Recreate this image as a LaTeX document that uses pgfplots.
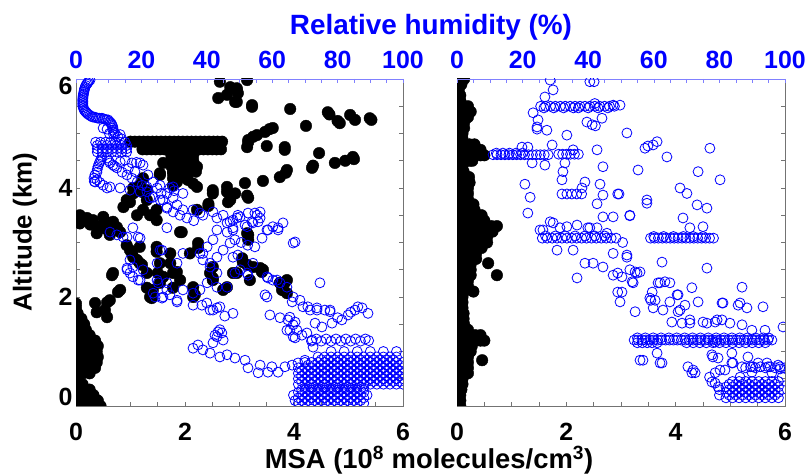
\documentclass[border=0pt]{standalone}
\usepackage{fontspec}
\setmainfont{Liberation Sans}
\usepackage{pgfplots}
\pgfplotsset{compat=1.18}
\definecolor{rhblue}{RGB}{0,0,255}
\definecolor{rhaxis}{RGB}{128,128,255}
\newcommand{\lbl}{\fontsize{25}{28}\selectfont\bfseries}

\pgfplotsset{
  panel/.style={
    width=327bp, height=327bp, scale only axis,
    ymin=0, ymax=6,
    tick align=inside,
    major tick length=4bp, minor tick length=4bp,
    clip marker paths=true,
  },
  msa/.style={
    panel, xmin=0, xmax=6,
    xtick={0,2,4,6}, xticklabels={0,2,4,6},
    minor xtick={0.5,1,1.5,2.5,3,3.5,4.5,5,5.5},
    ytick={0,2,4,6},
    minor ytick={0.5,1,1.5,2.5,3,3.5,4.5,5,5.5},
    xtick pos=left,
    axis line style={draw=black!55, line width=0.8bp},
    tick style={black!55, line width=0.6bp},
    tick label style={font=\lbl},
    xticklabel style={yshift=-14bp},
  },
  rh/.style={
    panel, xmin=0, xmax=100,
    axis x line*=top, axis y line=none,
    xtick={0,20,40,60,80,100}, xticklabels={0,20,40,60,80,100},
    minor xtick={5,10,15,25,30,35,45,50,55,65,70,75,85,90,95},
    axis line style={draw=rhaxis, line width=0.8bp},
    tick style={rhaxis, line width=0.6bp},
    tick label style={font=\lbl, text=rhblue},
    xticklabel style={yshift=7bp},
  },
  dots/.style={only marks, mark=*, mark size=5.8pt, mark options={fill=black, draw=black}},
  rings/.style={only marks, mark=o, mark size=5pt, mark options={draw=rhblue, line width=0.8bp}},
}

\begin{document}
\begin{tikzpicture}

% ---------------- left panel: MSA ----------------
\begin{axis}[msa, at={(76bp,68bp)}, anchor=south west,
  yticklabels={\raisebox{9bp}[\height][\depth]{0},2,4,\raisebox{-7bp}[\height][\depth]{6}}]
\addplot[dots] coordinates {
(0.03,0.00) (0.13,0.00) (0.23,0.00) (0.33,0.00) (0.45,0.00)
(0.03,0.10) (0.13,0.10) (0.23,0.10) (0.33,0.10) (0.40,0.10)
(0.03,0.20) (0.13,0.20) (0.23,0.20) (0.32,0.20)
(0.03,0.30) (0.13,0.30) (0.25,0.30)
(0.03,0.40) (0.12,0.40)
(0.03,0.50)
(0.03,0.60) (0.13,0.60) (0.25,0.60)
(0.03,0.70) (0.13,0.70) (0.23,0.70) (0.35,0.70)
(0.03,0.80) (0.13,0.80) (0.23,0.80) (0.33,0.80) (0.38,0.80)
(0.03,0.90) (0.13,0.90) (0.23,0.90) (0.33,0.90) (0.40,0.90)
(0.03,1.00) (0.13,1.00) (0.23,1.00) (0.33,1.00) (0.38,1.00)
(0.03,1.10) (0.13,1.10) (0.23,1.10) (0.33,1.10) (0.40,1.10)
(0.03,1.20) (0.13,1.20) (0.23,1.20) (0.35,1.20)
(0.03,1.30) (0.13,1.30) (0.25,1.30)
(0.03,1.40) (0.13,1.40) (0.18,1.40)
(0.03,1.50) (0.13,1.50) (0.15,1.50)
(0.03,1.60) (0.10,1.60)
(0.03,1.70) (0.00,1.80) (0.00,1.88)
(0.35,1.89) (0.38,1.72) (0.53,1.76) (0.57,1.63) (0.62,1.94) (0.57,1.90)
(0.77,2.09) (0.81,2.13) (0.66,2.40) (0.68,2.44)
(0.07,3.50) (0.13,3.41) (0.20,3.45) (0.26,3.33) (0.31,3.41) (0.50,3.47)
(0.62,3.36) (0.68,3.38) (0.75,3.28) (0.81,3.19) (0.38,3.17) (0.62,3.14)
(0.45,3.30) (0.07,3.35) (0.55,3.25)
(0.93,2.95) (1.03,2.80) (1.12,2.68) (1.17,2.92) (1.21,2.59) (1.17,2.62)
(1.30,2.44) (1.30,2.17) (1.36,2.00) (1.39,1.98) (1.41,2.13) (1.48,2.83)
(1.48,2.92) (1.50,2.44) (1.54,2.26) (1.54,2.62) (1.60,2.37) (1.73,2.62)
(1.73,2.80) (1.78,2.44) (1.78,2.17) (1.85,2.46) (1.91,2.31) (2.09,2.80)
(2.15,2.00) (2.15,2.18) (2.18,2.04) (2.24,2.99) (2.24,2.90) (2.46,2.44)
(2.51,2.55) (2.51,2.31) (2.51,2.35) (2.70,2.13) (2.77,2.18) (2.88,2.44)
(2.95,2.44) (3.05,2.71) (3.06,2.64) (3.14,2.59) (3.19,2.31) (3.25,2.55)
(3.38,2.53) (3.41,2.46) (3.43,2.50) (3.74,2.26) (3.78,2.13) (3.80,2.13)
(3.83,2.26) (3.87,2.07) (3.87,2.31) (3.14,3.17) (3.16,3.05) (3.16,3.14)
(0.99,2.86) (1.05,2.73)
(0.87,3.65) (0.93,3.78) (0.99,3.74) (1.05,3.90) (1.05,4.00) (1.12,3.50)
(1.17,4.05) (1.21,3.93) (1.23,3.60) (1.23,4.18) (1.30,3.96) (1.30,3.78)
(1.36,3.50) (1.48,3.60) (1.48,3.41) (1.54,4.27) (1.54,4.24) (1.60,4.46)
(1.78,4.27) (1.78,4.05) (1.78,4.18) (1.85,4.11) (1.91,3.19) (1.94,3.19)
(2.22,3.60) (2.22,4.39) (2.43,3.71) (2.43,3.67) (2.51,3.96) (2.51,3.90)
(2.77,3.93) (2.77,4.02) (2.79,3.74) (2.83,3.78)
(1.00,4.85) (1.08,4.85) (1.16,4.85) (1.24,4.85) (1.32,4.85) (1.40,4.85)
(1.48,4.85) (1.56,4.85) (1.64,4.85) (1.72,4.85) (1.80,4.85) (1.88,4.85)
(1.96,4.85) (2.04,4.85) (2.12,4.85) (2.20,4.85) (2.28,4.85) (2.36,4.85)
(2.44,4.85) (2.52,4.85) (2.60,4.85) (2.68,4.85)
(1.22,4.71) (1.30,4.71) (1.38,4.71) (1.46,4.71) (1.54,4.71) (1.62,4.71)
(1.70,4.71) (1.78,4.71) (1.86,4.71) (1.94,4.71) (2.02,4.71) (2.10,4.71)
(2.18,4.71) (2.26,4.71) (2.34,4.71) (2.42,4.71) (2.50,4.71) (2.58,4.71)
(2.66,4.71)
(1.75,4.60) (1.85,4.60) (1.95,4.60) (2.05,4.60) (2.15,4.60)
(1.75,4.50) (1.85,4.50) (1.95,4.50) (2.05,4.50) (2.15,4.50)
(1.75,4.40) (1.85,4.40) (1.95,4.40) (2.05,4.40) (2.18,4.40)
(1.78,4.30) (1.88,4.30) (1.98,4.30) (2.08,4.30) (2.20,4.30)
(1.80,4.20) (1.90,4.20) (2.05,4.15) (2.15,4.08) (2.22,4.02)
(2.64,5.95) (2.83,5.85) (2.95,5.80) (2.95,5.83) (2.97,5.74) (2.61,5.65)
(2.77,5.71) (2.92,5.58) (2.95,5.58) (3.23,5.49) (3.23,5.52) (3.14,5.98)
(3.93,5.45) (4.62,5.39) (4.65,5.35) (4.84,5.19) (4.80,5.23) (5.03,5.34)
(5.12,5.25) (5.39,5.28) (5.42,5.25) (4.22,5.14) (3.16,4.84) (3.16,4.88)
(3.25,4.94) (3.32,4.97) (3.47,5.03) (3.61,5.10) (3.55,5.08) (3.50,4.77)
(3.83,4.70) (3.83,4.75) (4.46,4.64) (4.33,4.37) (4.35,4.41) (4.75,4.46)
(4.94,4.50) (5.08,4.57) (5.10,4.53) (3.87,4.33) (3.85,4.28) (3.74,4.20)
(3.43,4.13) (3.10,4.09) (3.16,3.82) (3.14,3.86) (2.92,3.90) (3.14,4.75)
};
\end{axis}

% ---------------- left panel: relative humidity ----------------
\begin{axis}[rh, at={(76bp,68bp)}, anchor=south west]
\addplot[rings] coordinates {
(5.0,6.05) (4.3,5.98) (3.6,5.93) (3.0,5.88) (2.6,5.82) (2.4,5.76) (2.2,5.70)
(2.1,5.64) (2.1,5.58) (2.1,5.52) (2.3,5.46) (2.8,5.41) (3.4,5.37) (4.3,5.33)
(5.2,5.30) (6.2,5.29) (7.2,5.28) (7.9,5.28) (8.8,5.26) (9.8,5.25) (10.5,5.20)
(11.0,5.16) (11.3,5.10) (11.3,5.06) (12.0,5.00) (12.8,4.94) (8.3,5.10)
(9.5,5.08) (10.2,5.00) (11.5,4.98) (13.5,4.98) (14.0,4.90)
(4.6,6.02) (3.9,5.96) (3.3,5.91) (2.8,5.85) (2.5,5.79) (2.3,5.73) (2.15,5.67)
(2.05,5.61) (2.05,5.55) (2.15,5.49) (2.5,5.43) (3.1,5.39) (3.8,5.35) (4.8,5.31)
(5.7,5.30) (6.7,5.28) (8.4,5.27) (9.3,5.25) (10.2,5.22) (10.8,5.18)
(11.2,5.13) (11.6,5.03)
(6.5,4.66) (8.0,4.66) (9.5,4.66) (11.0,4.66) (12.5,4.66) (14.0,4.66) (15.5,4.66)
(6.5,4.72) (8.0,4.72) (9.5,4.72) (11.0,4.72) (12.5,4.72) (14.0,4.72) (15.5,4.72)
(6.5,4.78) (8.0,4.78) (9.5,4.78) (11.0,4.78) (12.5,4.78) (14.0,4.78) (15.5,4.78)
(6.0,4.84) (7.5,4.84) (9.0,4.84) (10.5,4.84) (12.0,4.84) (13.5,4.84) (15.0,4.84)
(7.9,4.57) (7.3,4.48) (6.7,4.39) (6.4,4.29) (5.8,4.24) (5.5,4.18) (6.4,4.15)
(7.3,4.10) (8.3,4.05) (10.4,4.02) (13.5,4.00) (16.5,3.96) (19.6,3.93)
(7.6,4.52) (7.0,4.44) (6.5,4.34) (5.6,4.12) (5.8,4.11) (9.5,4.00)
(9.5,4.55) (10.4,4.46) (11.3,4.42) (12.5,4.37) (14.1,4.29) (15.6,4.24)
(17.1,4.18) (18.7,4.11) (20.2,4.05) (13.5,4.48) (15.0,4.51) (17.1,4.46)
(18.5,4.47) (19.6,4.46) (20.5,4.42) (22.0,4.24) (23.6,4.11) (25.7,4.05)
(16.0,4.36) (18.0,4.30) (10.0,4.50) (11.8,4.40)
(21.7,3.93) (22.6,3.82) (24.8,4.00) (25.7,3.78) (27.8,3.90) (28.7,4.00)
(29.7,3.82) (30.9,3.69) (32.7,3.90) (27.8,3.63) (29.7,3.56) (31.8,3.50)
(33.9,3.45) (38.8,3.50) (41.9,3.56) (43.1,3.45) (45.0,3.50) (47.1,3.38)
(49.2,3.45) (46.2,3.19) (48.0,3.27) (10.4,3.19) (12.5,3.14) (14.4,3.10)
(17.4,3.27) (19.6,3.08) (27.8,3.27) (21.7,4.02) (23.6,3.83) (26.6,3.78)
(29.7,4.02) (27.8,3.65) (32.7,3.60) (37.9,3.54) (35.8,3.60) (30.0,3.95)
(26.0,3.90) (36.0,3.40)
(43.1,3.23) (46.2,3.36) (48.0,3.41) (50.2,3.47) (52.6,3.54) (54.7,3.54)
(56.3,3.45) (54.1,3.36) (52.3,3.29) (48.0,3.23) (58.4,3.23) (60.2,3.29)
(63.3,3.36) (61.8,3.23) (49.5,3.50) (55.4,3.50) (53.8,3.38) (51.7,3.32)
(55.7,3.38) (58.7,3.23) (61.8,3.27) (67.0,3.01) (56.9,3.08) (48.6,3.05)
(50.5,3.00) (52.5,2.95) (54.7,2.92) (56.3,3.56)
(41.9,3.05) (38.8,2.80) (41.0,2.62) (43.1,2.44) (43.1,2.18) (41.9,1.76)
(48.0,1.70) (40.0,1.89) (35.8,1.85) (30.9,1.94) (26.6,2.00) (23.6,2.07)
(27.8,2.26) (32.7,2.13) (37.9,2.13) (20.5,2.50) (17.4,2.55) (15.6,2.50)
(16.5,2.68) (19.6,2.31) (24.8,2.31) (24.8,2.62) (26.3,2.86) (15.6,3.10)
(19.0,3.10) (15.6,2.53) (16.5,2.44) (17.4,2.37) (19.0,2.31) (25.1,2.26)
(27.8,2.13) (28.7,2.04) (30.9,1.91) (26.3,1.98) (24.2,2.00) (35.8,2.07)
(38.5,1.85) (41.0,1.76) (43.1,1.80) (40.1,2.26) (46.2,2.18) (38.8,2.68)
(41.0,2.55) (43.1,2.73) (45.0,2.86) (47.1,2.99) (37.9,2.80) (40.1,2.92)
(25.7,2.86) (30.9,2.62) (32.7,2.80) (44.0,1.82) (45.5,1.65)
(48.0,2.73) (50.2,2.50) (52.3,2.44) (54.1,2.62) (58.4,2.37) (60.2,2.31)
(62.4,2.26) (64.5,2.18) (66.4,2.00) (68.5,1.94) (70.9,1.82) (73.7,1.76)
(77.7,1.76) (74.6,2.26) (58.4,2.00) (66.4,2.99) (49.5,2.77) (48.6,2.44)
(52.6,2.40) (58.7,2.35) (61.5,2.31) (57.8,2.04) (66.1,1.91) (69.4,1.82)
(71.6,1.76) (73.7,1.80) (76.1,1.76) (77.7,1.73) (59.3,1.67) (62.4,1.62)
(64.8,1.58) (67.0,1.54) (66.4,1.49) (67.6,1.39) (65.4,1.39) (67.0,1.25)
(69.1,1.30) (70.6,1.34) (72.2,1.21) (72.5,1.08) (73.1,1.52) (75.2,1.45)
(78.3,1.52) (81.3,1.58) (83.2,1.67) (85.3,1.76) (87.5,1.80) (89.3,1.70)
(86.2,1.82) (84.0,1.72) (80.0,1.62) (65.4,1.63) (64.5,1.39) (66.4,1.27)
(72.0,1.19) (73.5,1.23) (75.0,1.19) (76.5,1.23) (78.0,1.19) (79.5,1.23)
(81.0,1.19) (82.5,1.23) (84.0,1.19) (85.5,1.23) (87.0,1.19) (88.5,1.23)
(89.5,1.20)
(35.8,1.06) (37.3,1.12) (38.8,1.03) (41.0,0.97) (41.9,1.16) (43.1,1.27)
(43.4,1.36) (44.6,1.34) (45.0,1.21) (44.0,0.90) (46.2,0.94) (48.6,0.88)
(51.7,0.84) (52.6,0.70) (55.7,0.61) (56.3,0.75) (58.7,0.62) (59.9,0.72)
(61.8,0.62) (63.9,0.72) (66.1,0.75) (67.9,0.79) (70.0,0.84) (42.5,1.30)
(44.0,1.40)
(68,0.4) (70,0.4) (72,0.4) (74,0.4) (76,0.4) (78,0.4) (80,0.4) (82,0.4) (84,0.4)
(86,0.4) (88,0.4) (90,0.4) (92,0.4) (94,0.4) (96,0.4) (98,0.4) (100,0.4)
(68,0.5) (70,0.5) (72,0.5) (74,0.5) (76,0.5) (78,0.5) (80,0.5) (82,0.5) (84,0.5)
(86,0.5) (88,0.5) (90,0.5) (92,0.5) (94,0.5) (96,0.5) (98,0.5) (100,0.5)
(68,0.6) (70,0.6) (72,0.6) (74,0.6) (76,0.6) (78,0.6) (80,0.6) (82,0.6) (84,0.6)
(86,0.6) (88,0.6) (90,0.6) (92,0.6) (94,0.6) (96,0.6) (98,0.6) (100,0.6)
(68,0.7) (70,0.7) (72,0.7) (74,0.7) (76,0.7) (78,0.7) (80,0.7) (82,0.7) (84,0.7)
(86,0.7) (88,0.7) (90,0.7) (92,0.7) (94,0.7) (96,0.7) (98,0.7) (100,0.7)
(70,0.8) (72,0.8) (74,0.8) (76,0.8) (78,0.8) (80,0.8) (82,0.8) (84,0.8)
(86,0.8) (88,0.8) (90,0.8) (92,0.8) (94,0.8) (96,0.8) (98,0.8) (100,0.8)
(74,0.9) (76,0.9) (78,0.9) (80,0.9) (82,0.9) (84,0.9) (86,0.9) (88,0.9)
(90,0.9) (92,0.9) (94,0.9) (96,0.9) (98,0.9)
(78,1.0) (82,1.0) (86,1.0) (90,1.0) (94,1.0) (98,1.0)
(69,0.45) (71,0.45) (73,0.45) (75,0.45) (77,0.45) (79,0.45) (81,0.45) (83,0.45)
(85,0.45) (87,0.45) (89,0.45) (91,0.45) (93,0.45) (95,0.45) (97,0.45) (99,0.45)
(69,0.55) (71,0.55) (73,0.55) (75,0.55) (77,0.55) (79,0.55) (81,0.55) (83,0.55)
(85,0.55) (87,0.55) (89,0.55) (91,0.55) (93,0.55) (95,0.55) (97,0.55) (99,0.55)
(69,0.65) (71,0.65) (73,0.65) (75,0.65) (77,0.65) (79,0.65) (81,0.65) (83,0.65)
(85,0.65) (87,0.65) (89,0.65) (91,0.65) (93,0.65) (95,0.65) (97,0.65) (99,0.65)
(71,0.75) (73,0.75) (75,0.75) (77,0.75) (79,0.75) (81,0.75) (83,0.75)
(85,0.75) (87,0.75) (89,0.75) (91,0.75) (93,0.75) (95,0.75) (97,0.75) (99,0.75)
(75,0.85) (77,0.85) (79,0.85) (81,0.85) (83,0.85) (85,0.85) (87,0.85)
(89,0.85) (91,0.85) (93,0.85) (95,0.85) (97,0.85)
(66.5,0.2) (68,0.05) (70,0.05) (72,0.05) (74,0.05) (76,0.05) (78,0.05) (80,0.05)
(82,0.05) (84,0.05) (86,0.05) (88,0.05)
(68,0.15) (70,0.15) (72,0.15) (74,0.15) (76,0.15) (78,0.15) (80,0.15) (82,0.15)
(84,0.15) (86,0.15) (88,0.15)
(68,0.25) (70,0.25) (72,0.25) (74,0.25) (76,0.25) (78,0.25) (80,0.25) (82,0.25)
(84,0.25) (86,0.25) (88,0.25)
(70,0.33) (72,0.33) (74,0.33) (76,0.33) (78,0.33) (80,0.33) (82,0.33) (84,0.33)
(86,0.33) (88,0.33)
(67,0.10) (69,0.10) (71,0.10) (73,0.10) (75,0.10) (77,0.10) (79,0.10) (81,0.10)
(83,0.10) (85,0.10) (87,0.10)
(69,0.20) (71,0.20) (73,0.20) (75,0.20) (77,0.20) (79,0.20) (81,0.20) (83,0.20)
(85,0.20) (87,0.20) (89,0.20)
(69,0.30) (71,0.30) (73,0.30) (75,0.30) (77,0.30) (79,0.30) (81,0.30) (83,0.30)
(85,0.30) (87,0.30)
};
\end{axis}

% ---------------- right panel: MSA ----------------
\begin{axis}[msa, at={(457bp,68bp)}, anchor=south west, width=328bp, yticklabels={}]
\addplot[dots] coordinates {
(0.03,6.0) (0.13,6.0) (0.03,5.9) (0.08,5.9) (0.03,5.8) (0.03,5.7) (0.06,5.7)
(0.03,5.6) (0.06,5.6) (0.03,5.5) (0.13,5.5) (0.20,5.5) (0.03,5.4) (0.13,5.4)
(0.25,5.4) (0.03,5.3) (0.13,5.3) (0.20,5.3) (0.03,5.2) (0.13,5.2) (0.03,5.1)
(0.13,5.1) (0.03,5.0) (0.10,5.0) (0.03,4.9) (0.10,4.9)
(0.03,4.8) (0.13,4.8) (0.23,4.8) (0.32,4.8)
(0.03,4.7) (0.13,4.7) (0.23,4.7) (0.33,4.7) (0.43,4.7)
(0.03,4.6) (0.13,4.6) (0.23,4.6) (0.33,4.6) (0.43,4.6) (0.50,4.6)
(0.03,4.5) (0.13,4.5) (0.23,4.5) (0.28,4.5)
(0.03,4.4) (0.10,4.4) (0.03,4.3) (0.12,4.3)
(0.03,4.2) (0.13,4.2) (0.22,4.2) (0.03,4.1) (0.13,4.1) (0.23,4.1)
(0.03,4.0) (0.13,4.0) (0.20,4.0) (0.03,3.9) (0.13,3.9) (0.20,3.9)
(0.03,3.8) (0.13,3.8) (0.20,3.8)
(0.03,3.7) (0.13,3.7) (0.23,3.7) (0.30,3.7)
(0.03,3.6) (0.13,3.6) (0.23,3.6) (0.32,3.6)
(0.03,3.5) (0.13,3.5) (0.23,3.5) (0.33,3.5) (0.45,3.5)
(0.03,3.4) (0.13,3.4) (0.23,3.4) (0.33,3.4) (0.43,3.4) (0.50,3.4)
(0.03,3.3) (0.13,3.3) (0.23,3.3) (0.33,3.3) (0.43,3.3) (0.53,3.3) (0.63,3.3) (0.73,3.3)
(0.03,3.2) (0.13,3.2) (0.23,3.2) (0.33,3.2) (0.43,3.2) (0.55,3.2) (0.65,3.2)
(0.03,3.1) (0.13,3.1) (0.23,3.1) (0.33,3.1) (0.45,3.1) (0.55,3.1)
(0.03,3.0) (0.13,3.0) (0.23,3.0) (0.33,3.0) (0.43,3.0) (0.55,3.0)
(0.03,2.9) (0.13,2.9) (0.23,2.9) (0.33,2.9) (0.45,2.9)
(0.03,2.8) (0.13,2.8) (0.23,2.8) (0.35,2.8)
(0.03,2.7) (0.13,2.7) (0.23,2.7) (0.35,2.7)
(0.03,2.6) (0.13,2.6) (0.25,2.6) (0.57,2.62)
(0.03,2.5) (0.13,2.5) (0.25,2.5)
(0.03,2.4) (0.13,2.4) (0.25,2.4) (0.73,2.40)
(0.03,2.3) (0.13,2.3) (0.20,2.3) (0.03,2.2) (0.13,2.2) (0.20,2.2)
(0.03,2.1) (0.13,2.1) (0.30,2.1) (0.03,2.0) (0.10,2.0)
(0.03,1.9) (0.10,1.9) (0.03,1.8) (0.10,1.8) (0.03,1.7) (0.12,1.7)
(0.03,1.6) (0.12,1.6) (0.03,1.5) (0.13,1.5) (0.03,1.4) (0.13,1.4) (0.20,1.4)
(0.03,1.3) (0.13,1.3) (0.23,1.3) (0.33,1.3) (0.43,1.3)
(0.03,1.2) (0.13,1.2) (0.23,1.2) (0.33,1.2) (0.43,1.2) (0.50,1.2)
(0.03,1.1) (0.13,1.1) (0.23,1.1) (0.27,1.1)
(0.03,1.0) (0.13,1.0) (0.25,1.0)
(0.03,0.9) (0.13,0.9) (0.20,0.9)
(0.03,0.8) (0.13,0.8) (0.20,0.8) (0.46,0.84)
(0.03,0.7) (0.13,0.7) (0.20,0.7) (0.03,0.6) (0.13,0.6) (0.20,0.6)
(0.03,0.5) (0.10,0.5) (0.03,0.4) (0.10,0.4) (0.03,0.3) (0.08,0.3)
(0.03,0.2) (0.06,0.2) (0.03,0.1) (0.06,0.1) (0.03,0.0) (0.06,0.0)
};
\end{axis}

% ---------------- right panel: relative humidity ----------------
\begin{axis}[rh, at={(457bp,68bp)}, anchor=south west, width=328bp]
\addplot[rings] coordinates {
(28.4,5.98) (29.3,5.80) (26.8,5.67) (40.5,5.95) (41.8,5.95)
(25.5,5.50) (27.0,5.50) (28.5,5.50) (30.0,5.50) (31.5,5.50) (33.0,5.50)
(34.5,5.50) (36.0,5.50) (37.5,5.50) (39.0,5.50) (40.5,5.50) (42.0,5.50)
(43.5,5.50) (45.0,5.50) (46.5,5.50) (48.0,5.50) (47.6,5.52) (42.0,5.55)
(37.0,5.47) (26.5,5.47) (29.5,5.47) (32.5,5.47) (35.5,5.47) (40.0,5.47)
(43.0,5.47) (46.0,5.47)
(23.2,5.38) (24.7,5.25) (24.4,5.12) (24.4,5.08) (27.4,5.06) (33.5,4.97)
(39.6,5.21) (41.2,5.16) (42.2,5.14) (44.2,5.28) (51.8,5.01) (49.7,5.52)
(19.8,4.75) (21.6,4.75) (29.0,4.79) (35.4,4.70) (42.7,4.70) (22.9,4.46)
(26.8,4.42) (32.9,4.46) (44.5,4.39) (32.3,4.30) (32.0,4.15) (39.0,4.11)
(20.7,4.07) (22.3,3.83) (43.6,4.07) (44.5,3.87) (42.7,3.71) (38.1,4.00)
(49.0,3.89) (21.6,3.54) (44.5,3.47) (47.6,3.47) (52.7,3.50) (55.2,4.33)
(57.3,4.73) (58.2,4.77) (59.8,4.79) (61.0,4.85) (64.0,4.57) (77.1,4.73)
(73.5,4.30) (80.2,4.15) (68.0,4.00) (70.1,3.90) (57.9,3.78) (57.9,3.72)
(73.2,3.69) (76.2,3.63) (68.9,3.45) (71.0,3.27) (75.0,3.29) (26.2,3.23)
(29.3,3.36) (33.5,3.29) (39.9,3.27) (45.7,3.17) (28.4,3.38) (25.3,3.23)
(31.4,3.27) (36.6,3.32) (40.5,3.27) (42.7,3.27) (49.4,3.89) (52.7,3.49)
(11.0,4.61) (12.2,4.61) (13.4,4.61) (14.6,4.61) (15.8,4.61) (17.0,4.61)
(18.2,4.61) (19.4,4.61) (20.6,4.61) (21.8,4.61) (23.0,4.61) (24.2,4.61)
(25.4,4.61) (26.6,4.61) (27.8,4.61) (12.0,4.64) (14.0,4.64) (16.0,4.64)
(18.0,4.64) (20.0,4.64)
(31.0,4.62) (32.2,4.62) (33.4,4.62) (34.6,4.62) (35.8,4.62) (37.0,4.62)
(32.0,3.89) (33.5,3.89) (35.0,3.89) (36.5,3.89) (38.0,3.89)
(26.0,3.08) (27.5,3.08) (29.0,3.08) (30.5,3.08) (32.0,3.08) (33.5,3.08)
(35.0,3.08) (36.5,3.08) (38.0,3.08) (39.5,3.08) (41.0,3.08) (42.5,3.08)
(44.0,3.08) (45.5,3.08) (47.0,3.08) (48.5,3.08)
(27.0,3.12) (30.0,3.12) (33.0,3.12) (36.0,3.12) (39.0,3.12) (42.0,3.12)
(45.0,3.12)
(59.0,3.08) (60.2,3.08) (61.4,3.08) (62.6,3.08) (63.8,3.08) (65.0,3.08)
(66.2,3.08) (67.4,3.08) (68.6,3.08) (69.8,3.08) (71.0,3.08) (72.2,3.08)
(73.4,3.08) (74.6,3.08) (75.8,3.08) (77.0,3.08) (78.2,3.08)
(60.0,3.11) (63.0,3.11) (66.0,3.11) (69.0,3.11) (72.0,3.11) (75.0,3.11)
(30.5,2.86) (35.4,2.86) (39.0,2.62) (41.5,2.62) (44.5,2.55) (47.6,2.80)
(51.8,2.77) (36.6,2.35) (47.6,2.40) (50.3,2.37) (52.7,2.50) (54.9,2.44)
(53.7,2.26) (49.0,2.09) (49.7,1.91) (54.3,1.73) (59.5,2.09) (59.1,1.94)
(59.8,1.80) (61.9,2.26) (64.9,2.26) (67.1,2.04) (68.0,1.76) (71.6,2.17)
(73.5,1.91) (76.2,2.53) (71.0,1.58) (81.1,1.89) (86.3,1.89) (88.4,1.80)
(86.9,2.18) (93.3,1.82) (99.4,1.45) (49.0,2.44) (54.3,2.46) (55.8,2.46)
(53.4,2.28) (50.3,2.09) (58.8,1.98) (61.3,2.26) (63.4,2.28) (62.5,2.64)
(60.4,1.94) (62.8,1.76) (64.9,1.91) (67.4,2.04) (69.5,1.85) (67.4,1.73)
(80.8,1.89) (85.7,1.85) (65.5,1.54) (68.6,1.52) (71.0,1.52) (75.0,1.54)
(78.7,1.54) (80.8,1.58) (83.2,1.52) (86.9,1.49) (89.9,1.39) (93.9,1.39)
(76.2,1.52) (79.3,1.58) (51.8,2.73) (50.5,3.00)
(54.0,1.21) (55.2,1.21) (56.4,1.21) (57.6,1.21) (58.8,1.21) (60.0,1.21)
(61.2,1.21) (62.4,1.21) (63.6,1.21) (64.8,1.21) (66.0,1.21) (67.2,1.21)
(68.4,1.21) (69.6,1.21) (70.8,1.21) (72.0,1.21) (73.2,1.21) (74.4,1.21)
(75.6,1.21) (76.8,1.21) (78.0,1.21) (79.2,1.21) (80.4,1.21) (81.6,1.21)
(82.8,1.21) (84.0,1.21) (85.2,1.21) (86.4,1.21) (87.6,1.21) (88.8,1.21)
(90.0,1.21) (91.2,1.21) (92.4,1.21) (93.6,1.21) (94.8,1.21) (96.0,1.21)
(55.0,1.25) (57.4,1.25) (59.8,1.25) (62.2,1.25) (64.6,1.25) (67.0,1.25)
(69.4,1.25) (71.8,1.25) (74.2,1.25) (76.6,1.25) (79.0,1.25) (81.4,1.25)
(83.8,1.25) (86.2,1.25) (88.6,1.25) (91.0,1.25) (93.4,1.25) (95.0,1.25)
(55.0,1.16) (56.5,1.16) (58.0,1.16) (59.5,1.16) (61.0,1.16)
(70.0,1.16) (72.0,1.16) (74.0,1.16) (76.0,1.16) (78.0,1.16) (80.0,1.16)
(82.0,1.16) (84.0,1.16) (86.0,1.16) (88.0,1.16) (90.0,1.16) (92.0,1.16)
(94.0,1.16)
(56.7,0.84) (61.0,0.97) (62.5,0.79) (72.0,0.66) (72.6,0.61) (77.7,0.94)
(79.6,0.88) (77.7,0.44) (79.6,0.35) (78.7,0.61) (81.7,0.66) (83.8,0.79)
(86.9,0.72) (89.9,0.62) (91.8,0.79) (94.8,0.72) (97.9,0.75) (96.0,0.61)
(88.7,0.90) (83.8,0.97) (99.1,0.53) (78.7,1.17) (61.9,0.79) (78.0,0.90)
(80.2,0.66) (84.1,0.79) (86.3,0.53) (90.2,0.72) (94.5,0.79) (98.5,0.72)
(70.4,0.72) (71.6,0.61) (55.8,0.84) (77.0,0.53) (78.7,0.42)
(88.0,0.70) (89.5,0.72) (91.0,0.70) (92.5,0.72) (94.0,0.70) (95.5,0.72)
(97.0,0.70) (98.5,0.68) (100.0,0.70)
(82,0.15) (84,0.15) (86,0.15) (88,0.15) (90,0.15) (92,0.15) (94,0.15) (96,0.15) (98,0.15)
(82,0.25) (84,0.25) (86,0.25) (88,0.25) (90,0.25) (92,0.25) (94,0.25) (96,0.25) (98,0.25)
(82,0.35) (84,0.35) (86,0.35) (88,0.35) (90,0.35) (92,0.35) (94,0.35) (96,0.35) (98,0.35)
(84,0.45) (86,0.45) (88,0.45) (90,0.45) (92,0.45) (94,0.45) (96,0.45) (98,0.45)
(83,0.20) (85,0.20) (87,0.20) (89,0.20) (91,0.20) (93,0.20) (95,0.20) (97,0.20)
(83,0.30) (85,0.30) (87,0.30) (89,0.30) (91,0.30) (93,0.30) (95,0.30) (97,0.30)
(83,0.40) (85,0.40) (87,0.40) (89,0.40) (91,0.40) (93,0.40) (95,0.40) (97,0.40)
(80,0.20) (80,0.30) (99,0.30)
};
\end{axis}

% titles and axis labels
\node[anchor=base, text=rhblue, font=\fontsize{28}{32}\selectfont\bfseries]
  at (431bp,439bp) {Relative humidity (\%)};
\node[anchor=base, font=\fontsize{27.5}{32}\selectfont\bfseries]
  at (429bp,6bp) {MSA (10\textsuperscript{8} molecules/cm\textsuperscript{3})};
\node[anchor=base, rotate=90, font=\fontsize{26}{30}\selectfont\bfseries]
  at (31.5bp,242bp) {Altitude (km)};

\pgfresetboundingbox
\useasboundingbox (0,0) rectangle (809bp,474bp);
\end{tikzpicture}
\end{document}
